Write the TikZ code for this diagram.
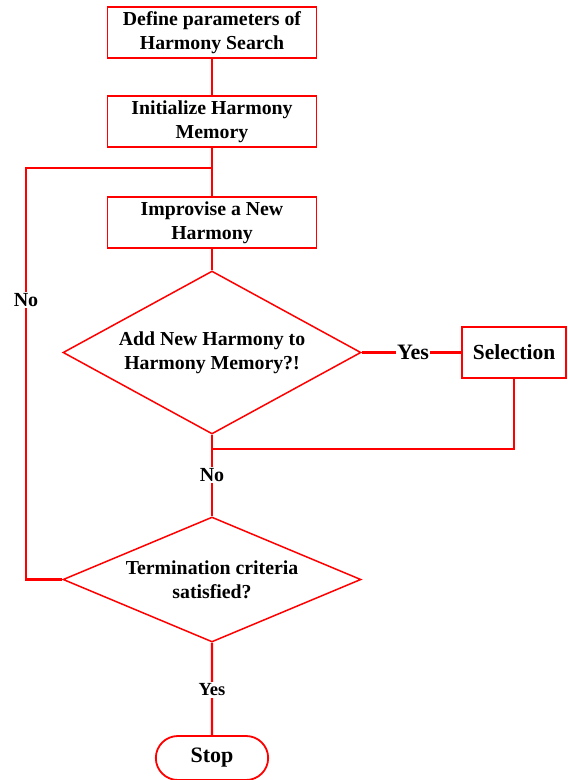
\documentclass[tikz,border=0pt]{standalone}
\usepackage{fontspec}
\setmainfont{Liberation Serif}
\usepackage{xcolor}
\usepackage{tikz}
\usetikzlibrary{shapes.geometric,shapes.misc,positioning}

\tikzset{
  block/.style={draw=red,line width=1.8pt,fill=white,align=center,minimum width=209pt,minimum height=51pt,inner sep=1pt,font=\fontsize{19.8}{24}\selectfont\bfseries},
  decision/.style={diamond,draw=red,line width=1.5pt,align=center,inner sep=0pt,font=\fontsize{19.8}{24}\selectfont\bfseries},
  terminal/.style={rounded rectangle,draw=red,line width=1.8pt,minimum width=119pt,minimum height=44pt,font=\fontsize{22}{24}\selectfont\bfseries},
  answer/.style={fill=white,inner sep=1.5pt,font=\fontsize{20}{22}\selectfont\bfseries},
  link/.style={draw=red,line width=2.4pt}
}

\begin{document}
\begin{tikzpicture}[x=1pt,y=-1pt]
\useasboundingbox (0,0) rectangle (568,780);

\node[block] (B1) at (212,32.5) {Define parameters of\\Harmony Search};
\node[block] (B2) at (212,121.5) {Initialize Harmony\\Memory};
\node[block] (B3) at (212,222.5) {Improvise a New\\Harmony};
\node[decision,minimum width=298pt,minimum height=163pt,aspect=1.83] (D1) at (212,352.5) {Add New Harmony to\\Harmony Memory?!};
\node[block,minimum width=104pt,minimum height=51pt,font=\fontsize{21.5}{24}\selectfont\bfseries] (Sel) at (514,352.5) {Selection};
\node[decision,minimum width=298pt,minimum height=125pt,aspect=2.38] (D2) at (212,579.5) {Termination criteria\\satisfied?};
\node[terminal] (Stop) at (212,758) {Stop};

\coordinate (J1) at (212,168);
\coordinate (J2) at (212,449);
\coordinate (L) at (26,579.5);

\path[link] (B1) edge (B2);
\path[link] (B2) edge (B3);
\path[link] (B3) edge (D1);
\path[link] (D1) edge (Sel);
\path[link] (D1) edge (D2);
\path[link] (D2) edge (Stop);
\draw[link] (Sel.south) |- (J2);
\draw[link] (D2.west) -- (L) |- (J1);

\node[answer] (no1) at (26,300) {No};
\node[answer,font=\fontsize{22}{24}\selectfont\bfseries] (yes1) at (413,352) {Yes};
\node[answer] (no2) at (212,475) {No};
\node[answer,font=\fontsize{18.5}{20}\selectfont\bfseries] (yes2) at (212,690) {Yes};

\end{tikzpicture}
\end{document}
